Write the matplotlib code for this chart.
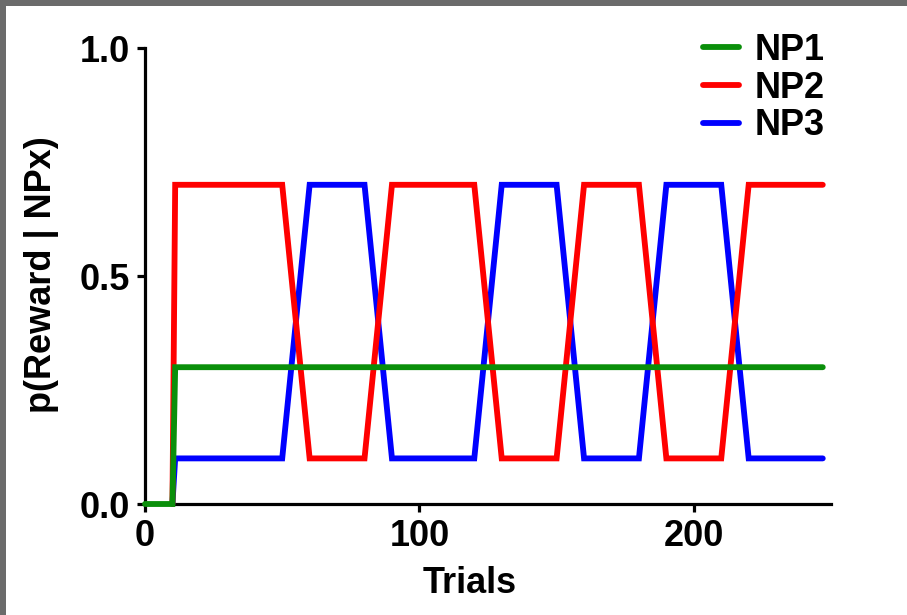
import matplotlib
matplotlib.use("Agg")
import matplotlib.pyplot as plt
from matplotlib.patches import Rectangle

# Data
np1_x = [0, 10, 11, 247]
np1_y = [0.0, 0.0, 0.3, 0.3]

np2_x = [10, 11, 50, 60, 80, 90, 120, 130, 150, 160, 180, 190, 210, 220, 247]
np2_y = [0.0, 0.7, 0.7, 0.1, 0.1, 0.7, 0.7, 0.1, 0.1, 0.7, 0.7, 0.1, 0.1, 0.7, 0.7]

np3_x = [10, 11, 50, 60, 80, 90, 120, 130, 150, 160, 180, 190, 210, 220, 247]
np3_y = [0.0, 0.1, 0.1, 0.7, 0.7, 0.1, 0.1, 0.7, 0.7, 0.1, 0.1, 0.7, 0.7, 0.1, 0.1]

series_labels = ["NP1", "NP2", "NP3"]
x_ticks = [0, 100, 200]
y_ticks = [0.0, 0.5, 1.0]
y_tick_labels = ["0.0", "0.5", "1.0"]

plt.rcParams['font.family'] = ['Liberation Sans', 'DejaVu Sans']
plt.rcParams['font.weight'] = 'bold'

FS = 26
W, H = 907, 615
fig = plt.figure(figsize=(W / 100, H / 100), dpi=100)
fig.patch.set_facecolor('white')

# grey frame at top and left
fig.patches.append(Rectangle((0, 1 - 6 / H), 1, 6 / H, transform=fig.transFigure,
                             facecolor='#6b6b6b', edgecolor='none', zorder=10))
fig.patches.append(Rectangle((0, 0), 6 / W, 1, transform=fig.transFigure,
                             facecolor='#6b6b6b', edgecolor='none', zorder=10))

ax_l, ax_r = 145 / W, 831 / W
ax_b, ax_t = 1 - 504 / H, 1 - 48 / H
ax = fig.add_axes([ax_l, ax_b, ax_r - ax_l, ax_t - ax_b])

lw = 4.2
kw = dict(linewidth=lw, solid_capstyle='round', solid_joinstyle='miter', clip_on=False)
l3, = ax.plot(np3_x, np3_y, color='#0000ff', label=series_labels[2], zorder=3, **kw)
l2, = ax.plot(np2_x, np2_y, color='#ff0000', label=series_labels[1], zorder=4, **kw)
l1, = ax.plot(np1_x, np1_y, color='#0a8f0a', label=series_labels[0], zorder=5, **kw)

ax.set_xlim(0, 250)
ax.set_ylim(0, 1.0)
ax.set_xticks(x_ticks)
ax.set_yticks(y_ticks)
ax.set_yticklabels(y_tick_labels)

for s in ['top', 'right']:
    ax.spines[s].set_visible(False)
for s in ['left', 'bottom']:
    ax.spines[s].set_linewidth(2.3)
    ax.spines[s].set_color('black')

ax.tick_params(axis='both', which='major', length=6, width=2.3, labelsize=FS,
               direction='out', color='black')
ax.tick_params(axis='x', pad=5)
ax.tick_params(axis='y', pad=5)
for lab in ax.get_xticklabels() + ax.get_yticklabels():
    lab.set_fontweight('bold')

ax.set_xlabel("Trials", fontsize=FS, fontweight='bold')
ax.set_ylabel("p(Reward | NPx)", fontsize=FS, fontweight='bold')
ax.xaxis.set_label_coords((470 - 145) / 686, (504 - 566) / 456)
ax.yaxis.set_label_coords((59 - 145) / 686, (504 - 275) / 456)

leg = fig.legend(handles=[l1, l2, l3], labels=series_labels,
                 loc='center left', bbox_to_anchor=(703 / W, 1 - 88 / H),
                 bbox_transform=fig.transFigure, frameon=False,
                 fontsize=FS, handlelength=1.0, handletextpad=0.42,
                 labelspacing=0.08, borderpad=0, borderaxespad=0)
for t in leg.get_texts():
    t.set_fontweight('bold')

fig.savefig("out.png", dpi=100, facecolor='white')
